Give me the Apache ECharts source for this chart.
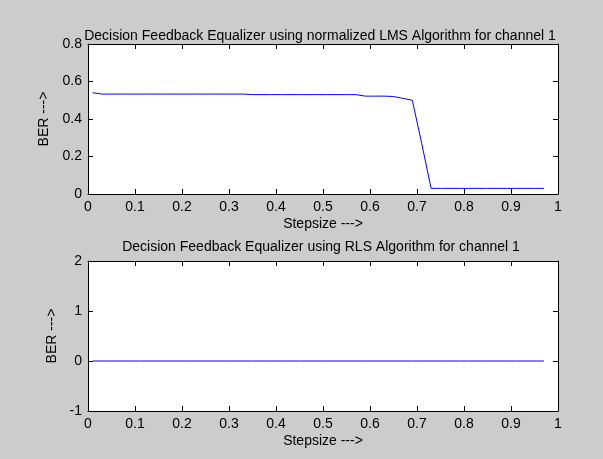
<!DOCTYPE html>
<html>
<head>
<meta charset="utf-8">
<script src="https://cdn.jsdelivr.net/npm/echarts@6/dist/echarts.min.js"></script>
<style>
  html, body { margin: 0; padding: 0; background: #cccccc; }
  #chart { width: 603px; height: 459px; }
</style>
</head>
<body>
<div id="chart"></div>
<script>
// Step sizes swept by the equalizer simulations
const stepsize = [0.01, 0.03, 0.05, 0.07, 0.09, 0.11, 0.13, 0.15, 0.17, 0.19,
                  0.21, 0.23, 0.25, 0.27, 0.29, 0.31, 0.33, 0.35, 0.37, 0.39,
                  0.41, 0.43, 0.45, 0.47, 0.49, 0.51, 0.53, 0.55, 0.57, 0.59,
                  0.61, 0.63, 0.65, 0.67, 0.69, 0.71, 0.73, 0.75, 0.77, 0.79,
                  0.81, 0.83, 0.85, 0.87, 0.89, 0.91, 0.93, 0.95, 0.97];

// Bit error rate of the normalized LMS decision feedback equalizer
const lmsBer = [0.54, 0.533, 0.533, 0.533, 0.533, 0.533, 0.533, 0.533, 0.533, 0.533,
                0.533, 0.533, 0.533, 0.533, 0.533, 0.533, 0.533, 0.53, 0.53, 0.53,
                0.53, 0.53, 0.53, 0.53, 0.53, 0.53, 0.53, 0.53, 0.53, 0.522,
                0.522, 0.522, 0.52, 0.51, 0.5, 0.27, 0.03, 0.03, 0.03, 0.03,
                0.03, 0.03, 0.03, 0.03, 0.03, 0.03, 0.03, 0.03, 0.03];

// Bit error rate of the RLS decision feedback equalizer
const rlsBer = [0, 0, 0, 0, 0, 0, 0, 0, 0, 0,
                0, 0, 0, 0, 0, 0, 0, 0, 0, 0,
                0, 0, 0, 0, 0, 0, 0, 0, 0, 0,
                0, 0, 0, 0, 0, 0, 0, 0, 0, 0,
                0, 0, 0, 0, 0, 0, 0, 0, 0];

const FONT = 'Liberation Sans, Arial, sans-serif';

function pairs(xs, ys) { return xs.map((x, i) => [x, ys[i]]); }

// Bottom axis with labels plus a bare top axis, so the box has ticks on every side
function xAxisPair(gridIndex) {
  const base = {
    gridIndex, type: 'value', min: 0, max: 1, interval: 0.1,
    axisLine: { show: true, onZero: false, lineStyle: { color: '#000', width: 1 } },
    axisTick: { show: true, inside: true, length: 5, lineStyle: { color: '#000' } },
    splitLine: { show: false }
  };
  return [
    Object.assign({}, base, {
      position: 'bottom',
      name: 'Stepsize --->', nameLocation: 'middle', nameGap: 23,
      nameTextStyle: { color: '#000', fontSize: 14, fontFamily: FONT },
      axisLabel: { color: '#000', fontSize: 14, fontFamily: FONT, margin: 6 }
    }),
    Object.assign({}, base, { position: 'top', axisLabel: { show: false } })
  ];
}

function yAxisPair(gridIndex, min, max, interval, gap) {
  const base = {
    gridIndex, type: 'value', min, max, interval,
    axisLine: { show: true, onZero: false, lineStyle: { color: '#000', width: 1 } },
    axisTick: { show: true, inside: true, length: 5, lineStyle: { color: '#000' } },
    splitLine: { show: false }
  };
  return [
    Object.assign({}, base, {
      position: 'left',
      name: 'BER --->', nameLocation: 'middle', nameGap: gap, nameRotate: 90,
      nameTextStyle: { color: '#000', fontSize: 14, fontFamily: FONT },
      axisLabel: { color: '#000', fontSize: 14, fontFamily: FONT, margin: 6 }
    }),
    Object.assign({}, base, { position: 'right', axisLabel: { show: false } })
  ];
}

const chart = echarts.init(document.getElementById('chart'), null, { renderer: 'canvas' });

chart.setOption({
  backgroundColor: '#cccccc',
  animation: false,
  title: [
    {
      text: 'Decision Feedback Equalizer using normalized LMS Algorithm for channel 1',
      left: 315, top: 24, textAlign: 'center',
      textStyle: { color: '#000', fontSize: 14, fontWeight: 'normal', fontFamily: FONT }
    },
    {
      text: 'Decision Feedback Equalizer using RLS Algorithm for channel 1',
      left: 316, top: 235, textAlign: 'center',
      textStyle: { color: '#000', fontSize: 14, fontWeight: 'normal', fontFamily: FONT }
    }
  ],
  grid: [
    { left: 88, top: 44, width: 470, height: 150, show: true, backgroundColor: '#fff', borderWidth: 0 },
    { left: 88, top: 261, width: 470, height: 150, show: true, backgroundColor: '#fff', borderWidth: 0 }
  ],
  xAxis: [...xAxisPair(0), ...xAxisPair(1)],
  yAxis: [...yAxisPair(0, 0, 0.8, 0.2, 34), ...yAxisPair(1, -1, 2, 1, 27)],
  series: [
    {
      type: 'line', xAxisIndex: 0, yAxisIndex: 0,
      data: pairs(stepsize, lmsBer),
      showSymbol: false, lineStyle: { color: '#0000ff', width: 1 }
    },
    {
      type: 'line', xAxisIndex: 2, yAxisIndex: 2,
      data: pairs(stepsize, rlsBer),
      showSymbol: false, lineStyle: { color: '#0000ff', width: 1 }
    }
  ]
});
</script>
</body>
</html>
